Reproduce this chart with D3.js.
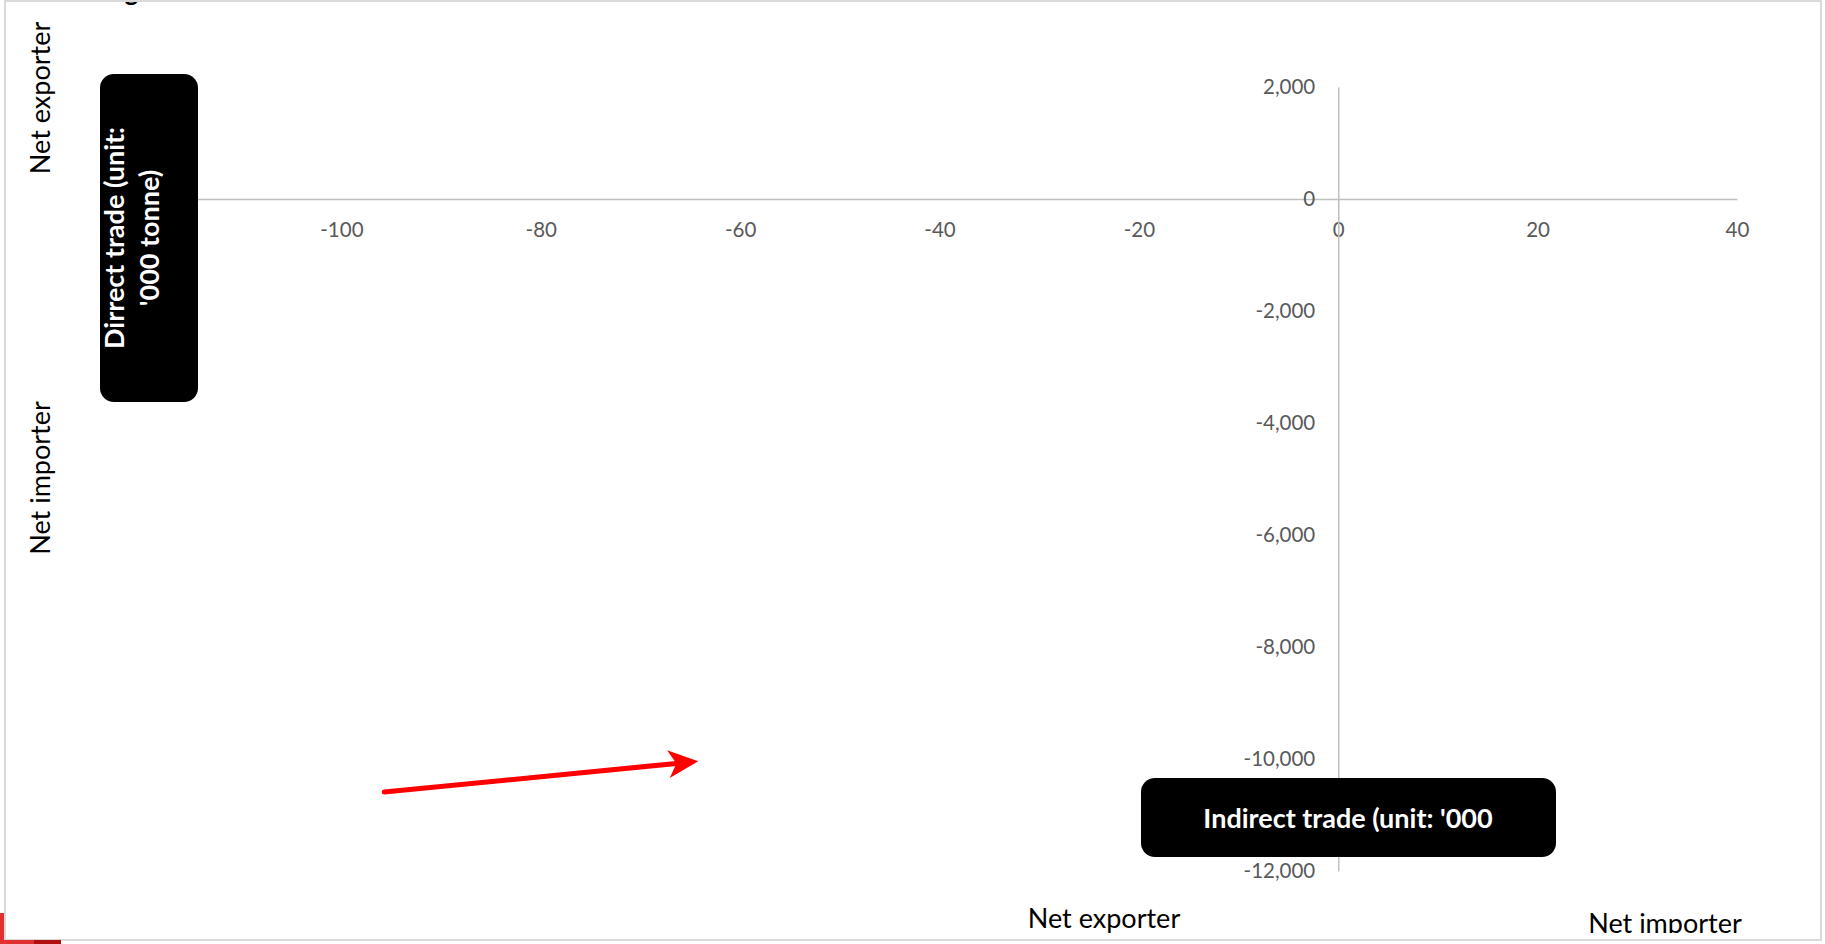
<!DOCTYPE html>
<html>
<head>
<meta charset="utf-8">
<script src="https://cdn.jsdelivr.net/npm/d3@7"></script>
<style>
    body { margin: 0; background: #fff; }
    #chart-area { width: 1825px; height: 944px; }
    .tick-label { font-family: Lato, "Open Sans", sans-serif; font-size: 20.5px; fill: #595959; }
    .side-label { font-family: Lato, "Open Sans", sans-serif; font-size: 27px; fill: #000; }
    .box-label { font-family: Lato, "Open Sans", sans-serif; font-size: 27px; font-weight: bold; fill: #fff; }
</style>
</head>
<body>
<div id="chart-area"></div>
<script>

// axis ticks
let xTicks = [-100, -80, -60, -40, -20, 0, 20, 40];
let yTicks = [2000, 0, -2000, -4000, -6000, -8000, -10000, -12000];
let xDomain = [-120, 40];
let yDomain = [-12000, 2000];

// texts
let titleText = "Figure";
let yAxisTitle = ["Dirrect trade (unit:", "'000 tonne)"];
let xAxisTitle = "Indirect trade (unit: '000";
let yQuadrants = ["Net exporter", "Net importer"];
let xQuadrants = ["Net exporter", "Net importer"];

// red arrow annotation, in data units [x, y]
let arrowFrom = [-95.7, -10590];
let arrowTo = [-64.2, -10040];

class TradeChart {

    constructor(parentElement) {
        this.parentElement = parentElement;
        this.initVis();
    }

    initVis() {
        let vis = this;

        vis.width = 1825;
        vis.height = 944;

        vis.svg = d3.select("#" + vis.parentElement).append("svg")
            .attr("width", vis.width)
            .attr("height", vis.height);

        // scales
        vis.x = d3.scaleLinear().domain(xDomain).range([142, 1737]);
        vis.y = d3.scaleLinear().domain(yDomain).range([871, 87]);

        // hyphen minus like the original, not the unicode one
        let fmt = d3.formatLocale({decimal: ".", thousands: ",", grouping: [3], currency: ["", ""], minus: "-"}).format(",");

        // cut-off title at the very top (only the descender shows)
        vis.svg.append("text")
            .attr("x", 104)
            .attr("y", 0.5)
            .attr("font-family", "Lato, sans-serif")
            .attr("font-size", 25)
            .attr("font-weight", 900)
            .text(titleText);

        // outer frame
        vis.svg.append("rect")
            .attr("x", 5).attr("y", 1)
            .attr("width", 1816).attr("height", 939)
            .attr("fill", "none")
            .attr("stroke", "#d9d9d9")
            .attr("stroke-width", 2);

        // little red corner at bottom left
        vis.svg.append("rect").attr("x", 0).attr("y", 913).attr("width", 4).attr("height", 31).attr("fill", "#e03030");
        vis.svg.append("rect").attr("x", 0).attr("y", 940).attr("width", 34).attr("height", 4).attr("fill", "#e03030");
        vis.svg.append("rect").attr("x", 34).attr("y", 940).attr("width", 27).attr("height", 4).attr("fill", "#b01010");

        // x axis
        vis.xAxis = d3.axisBottom(vis.x)
            .tickValues(xTicks)
            .tickSize(0)
            .tickPadding(23)
            .tickFormat(fmt);

        vis.xAxisGroup = vis.svg.append("g")
            .attr("class", "x-axis")
            .attr("transform", "translate(0," + vis.y(0) + ")")
            .call(vis.xAxis);

        // y axis
        vis.yAxis = d3.axisLeft(vis.y)
            .tickValues(yTicks)
            .tickSize(0)
            .tickPadding(23)
            .tickFormat(fmt);

        vis.yAxisGroup = vis.svg.append("g")
            .attr("class", "y-axis")
            .attr("transform", "translate(" + vis.x(0) + ",0)")
            .call(vis.yAxis);

        vis.svg.selectAll(".x-axis .domain, .y-axis .domain")
            .attr("stroke", "#bfbfbf")
            .attr("stroke-width", 1.5);

        vis.svg.selectAll(".tick text")
            .attr("class", "tick-label")
            .attr("font-family", null)
            .attr("font-size", null)
            .attr("fill", null);

        // y axis title box
        vis.svg.append("rect")
            .attr("x", 100).attr("y", 74)
            .attr("width", 98).attr("height", 328)
            .attr("rx", 14)
            .attr("fill", "#000");

        vis.svg.selectAll(".y-title")
            .data(yAxisTitle)
            .enter()
            .append("text")
            .attr("class", "box-label y-title")
            .attr("text-anchor", "middle")
            .attr("transform", (d, i) => "translate(" + (124 + i * 35) + ",238) rotate(-90)")
            .text(d => d);

        // x axis title box
        vis.svg.append("rect")
            .attr("x", 1141).attr("y", 778)
            .attr("width", 415).attr("height", 79)
            .attr("rx", 14)
            .attr("fill", "#000");

        vis.svg.append("text")
            .attr("class", "box-label")
            .attr("text-anchor", "middle")
            .attr("x", 1348)
            .attr("y", 828)
            .text(xAxisTitle);

        // quadrant labels on the left
        vis.svg.selectAll(".y-quad")
            .data(yQuadrants)
            .enter()
            .append("text")
            .attr("class", "side-label y-quad")
            .attr("text-anchor", "middle")
            .attr("transform", (d, i) => "translate(50," + (i === 0 ? 98 : 478) + ") rotate(-90)")
            .text(d => d);

        // quadrant labels at the bottom, the right one is cut by the plot area
        vis.svg.append("clipPath")
            .attr("id", "frame-clip")
            .append("rect")
            .attr("x", 0).attr("y", 0)
            .attr("width", vis.width).attr("height", 933);

        vis.svg.append("g")
            .selectAll(".x-quad")
            .data(xQuadrants)
            .enter()
            .append("text")
            .attr("class", "side-label x-quad")
            .attr("text-anchor", "middle")
            .attr("clip-path", (d, i) => i === 1 ? "url(#frame-clip)" : null)
            .attr("x", (d, i) => i === 0 ? 1104 : 1665)
            .attr("y", (d, i) => i === 0 ? 928 : 933)
            .text(d => d);

        vis.drawArrow();
    }

    drawArrow() {
        let vis = this;

        let x0 = vis.x(arrowFrom[0]), y0 = vis.y(arrowFrom[1]);
        let x1 = vis.x(arrowTo[0]), y1 = vis.y(arrowTo[1]);
        let len = Math.hypot(x1 - x0, y1 - y0);
        let ux = (x1 - x0) / len, uy = (y1 - y0) / len;

        let headLen = 30, notch = 22, halfW = 14;

        vis.svg.append("line")
            .attr("x1", x0).attr("y1", y0)
            .attr("x2", x1 - ux * notch).attr("y2", y1 - uy * notch)
            .attr("stroke", "#ff0000")
            .attr("stroke-width", 5)
            .attr("stroke-linecap", "round");

        let bx = x1 - ux * headLen, by = y1 - uy * headLen;
        let pts = [
            [x1, y1],
            [bx - uy * halfW, by + ux * halfW],
            [x1 - ux * notch, y1 - uy * notch],
            [bx + uy * halfW, by - ux * halfW]
        ];

        vis.svg.append("polygon")
            .attr("points", pts.map(p => p.join(",")).join(" "))
            .attr("fill", "#ff0000");
    }
}

new TradeChart("chart-area");

</script>
</body>
</html>
